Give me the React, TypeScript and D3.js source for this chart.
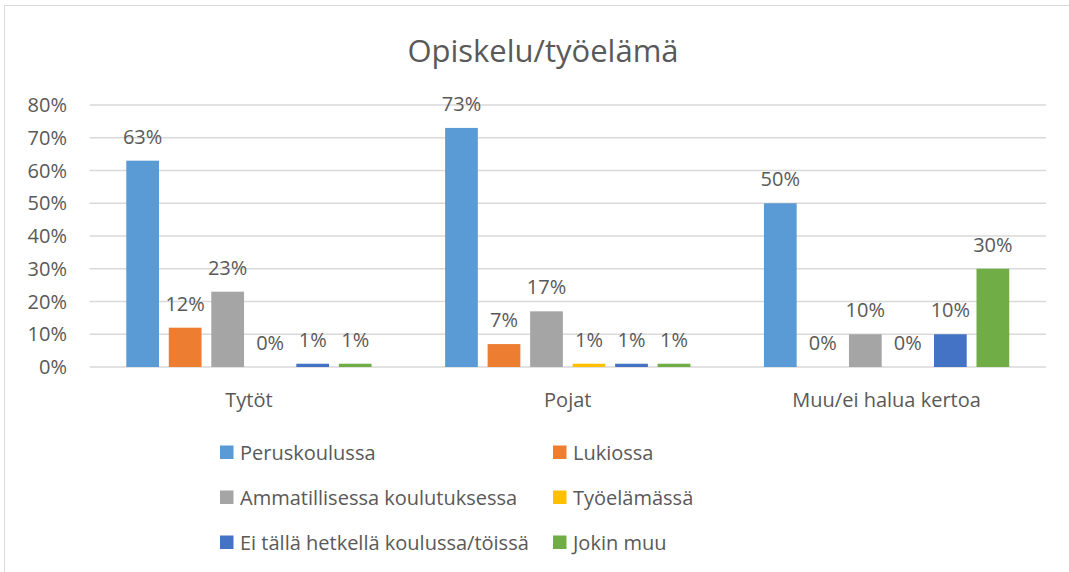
import React from "react";
import * as d3 from "d3";

const categories = ["Tytöt", "Pojat", "Muu/ei halua kertoa"];
const seriesNames = [
  "Peruskoulussa",
  "Lukiossa",
  "Ammatillisessa koulutuksessa",
  "Työelämässä",
  "Ei tällä hetkellä koulussa/töissä",
  "Jokin muu",
];
const seriesColors = ["#5B9BD5", "#ED7D31", "#A5A5A5", "#FFC000", "#4472C4", "#70AD47"];
const peruskoulussa = [63, 73, 50];
const lukiossa = [12, 7, 0];
const ammatillisessa = [23, 17, 10];
const tyoelamassa = [0, 1, 0];
const eiTalla = [1, 1, 10];
const jokinMuu = [1, 1, 30];
const yTicks = [0, 10, 20, 30, 40, 50, 60, 70, 80];

const seriesValues = [peruskoulussa, lukiossa, ammatillisessa, tyoelamassa, eiTalla, jokinMuu];

const W = 1069;
const H = 572;
const FONT = "'Open Sans', 'Noto Sans', sans-serif";
const TEXT = "#595959";

export default function App() {
  const x0 = d3.scaleBand<string>().domain(categories).range([89.5, 1046]).padding(0);
  const x1 = d3
    .scaleBand<number>()
    .domain(d3.range(seriesNames.length))
    .range([0, x0.bandwidth()])
    .paddingInner(0.23)
    .paddingOuter(0.865);
  const y = d3.scaleLinear().domain([0, 80]).range([367, 105]);

  const legendCols = [220, 553];
  const legendRows = [452.5, 497.5, 542.5];

  return (
    <svg
      width={W}
      height={H}
      style={{ position: "absolute", left: 0, top: 0, background: "#fff" }}
      fontFamily={FONT}
    >
      <rect x={4.5} y={5.5} width={W + 10} height={H + 10} fill="#fff" stroke="#D9D9D9" />
      <text x={543} y={61.5} textAnchor="middle" fontSize={31} fill={TEXT}>
        Opiskelu/työelämä
      </text>
      {yTicks.map((t) => (
        <g key={t}>
          <line x1={89.5} x2={1046} y1={y(t)} y2={y(t)} stroke="#D9D9D9" strokeWidth={1.5} />
          <text x={67} y={y(t) + 7} textAnchor="end" fontSize={20} fill={TEXT}>
            {t}%
          </text>
        </g>
      ))}
      {categories.map((c, ci) => (
        <g key={c}>
          {seriesValues.map((vals, si) => {
            const v = vals[ci];
            const bx = (x0(c) as number) + (x1(si) as number);
            const bw = x1.bandwidth();
            return (
              <g key={si}>
                {v > 0 && (
                  <rect x={bx} y={y(v)} width={bw} height={y(0) - y(v)} fill={seriesColors[si]} />
                )}
                <text
                  x={bx + bw / 2}
                  y={y(v) - 17}
                  textAnchor="middle"
                  fontSize={20}
                  fill={TEXT}
                >
                  {v}%
                </text>
              </g>
            );
          })}
          <text
            x={(x0(c) as number) + x0.bandwidth() / 2}
            y={406.5}
            textAnchor="middle"
            fontSize={20}
            fill={TEXT}
          >
            {c}
          </text>
        </g>
      ))}
      {seriesNames.map((s, i) => {
        const lx = legendCols[i % 2];
        const ly = legendRows[Math.floor(i / 2)];
        return (
          <g key={s}>
            <rect x={lx} y={ly - 7} width={13.5} height={13.5} fill={seriesColors[i]} />
            <text x={lx + 20} y={ly + 7} fontSize={20} fill={TEXT}>
              {s}
            </text>
          </g>
        );
      })}
    </svg>
  );
}
